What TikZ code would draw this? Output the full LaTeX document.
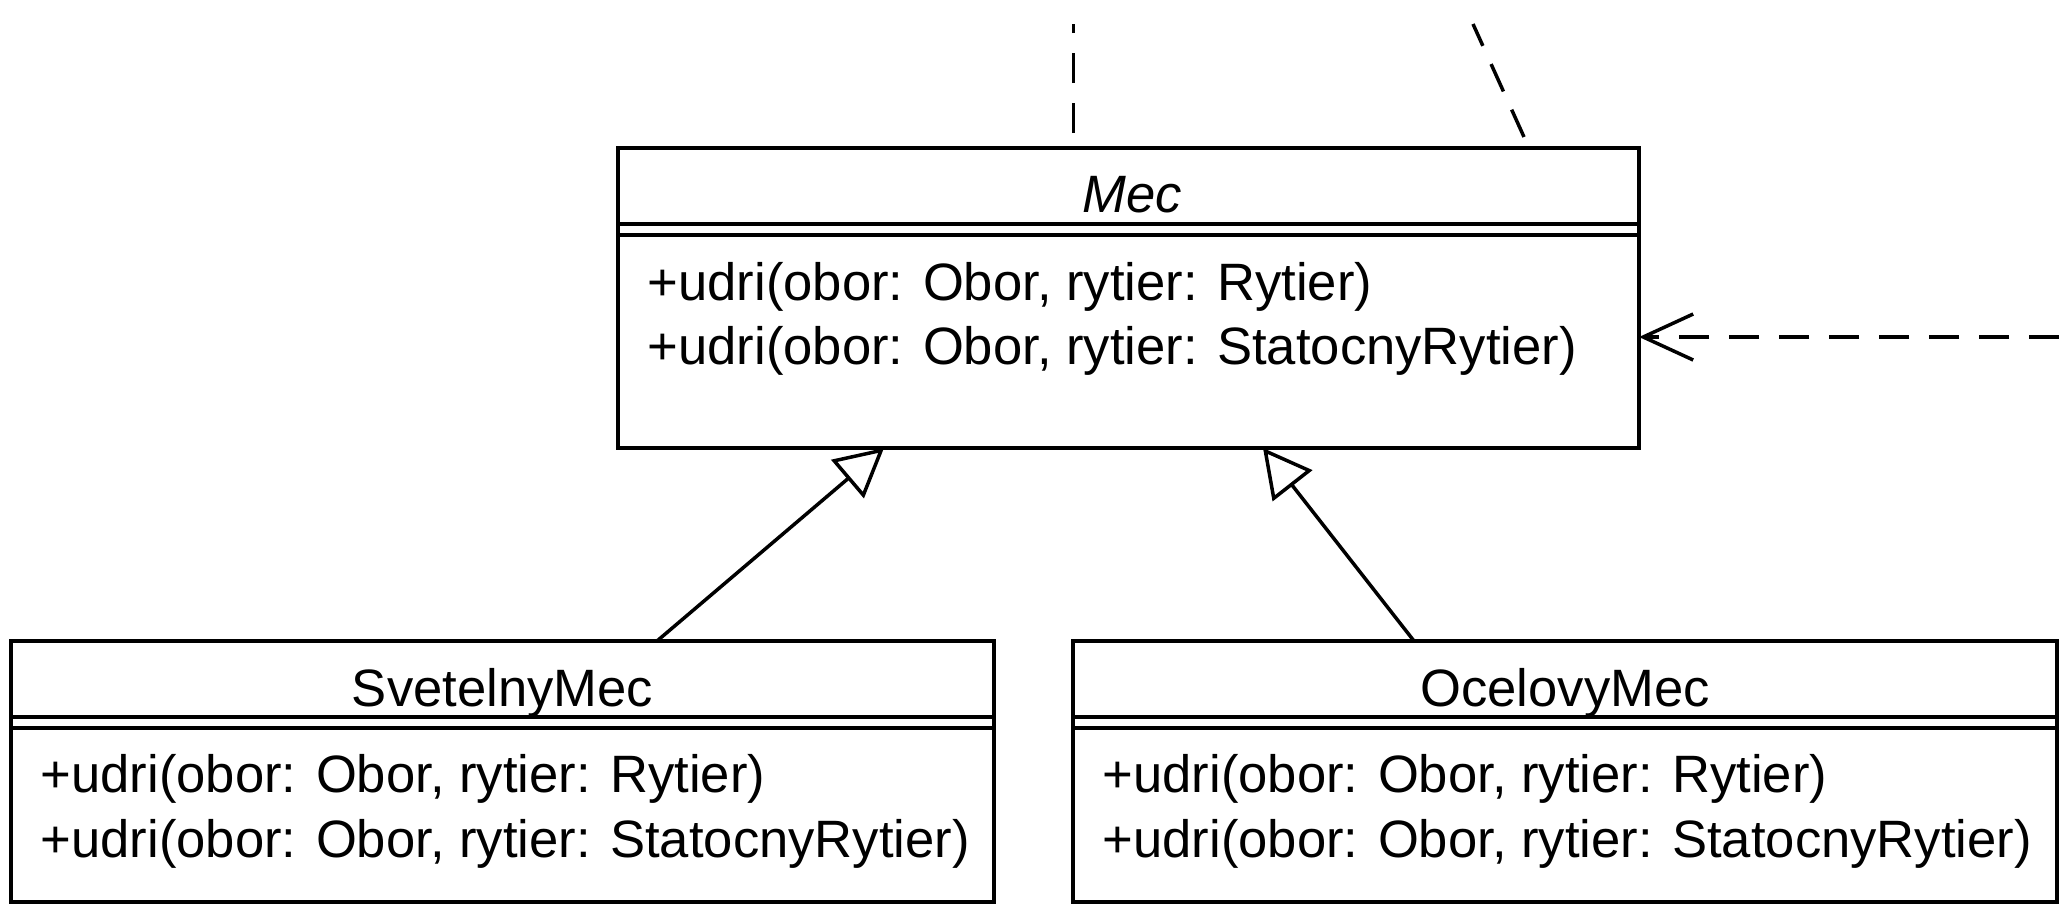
\documentclass[tikz,border=0pt]{standalone}
\usepackage{fontspec}
\setmainfont{Liberation Sans}
\usetikzlibrary{arrows.meta,calc}

\begin{document}
\begin{tikzpicture}[x=1pt,y=-1pt,
  line width=3.5pt,
  classbox/.style={draw, rectangle, inner sep=0pt, outer sep=0pt, anchor=north west},
  ttl/.style={anchor=base, inner sep=0pt, font=\fontsize{52.6pt}{64pt}\selectfont},
  abstractttl/.style={ttl, font=\fontsize{52.6pt}{64pt}\selectfont\itshape},
  member/.style={anchor=base west, inner sep=0pt, font=\fontsize{52.6pt}{64pt}\selectfont},
  dep/.style={dash pattern=on 30pt off 20pt},
  inherit/.style={-{Triangle[open,length=48pt,width=50pt]}},
  uses/.style={dep, -{Straight Barb[length=50pt,width=46pt]}}]

\useasboundingbox (0,0) rectangle (2059,903);

% abstract base class
\node[classbox, minimum width=1021pt, minimum height=300pt] (mec) at (618,148) {};
\draw ($(mec.north west)+(0,76)$) -- ($(mec.north east)+(0,76)$);
\draw ($(mec.north west)+(0,87)$) -- ($(mec.north east)+(0,87)$);
\node[abstractttl] (mecname) at ($(mec.north)+(4,64)$) {Mec};
\node[member] (mec1) at ($(mec.north west)+(28,152)$) {+udri(obor: Obor, rytier: Rytier)};
\node[member] (mec2) at ($(mec.north west)+(28,216)$) {+udri(obor: Obor, rytier: StatocnyRytier)};

% subclass SvetelnyMec
\node[classbox, minimum width=983pt, minimum height=261pt] (sv) at (11,641) {};
\draw ($(sv.north west)+(0,76)$) -- ($(sv.north east)+(0,76)$);
\draw ($(sv.north west)+(0,87)$) -- ($(sv.north east)+(0,87)$);
\node[ttl] (svname) at ($(sv.north)+(0,65)$) {SvetelnyMec};
\node[member] (sv1) at ($(sv.north west)+(28,151)$) {+udri(obor: Obor, rytier: Rytier)};
\node[member] (sv2) at ($(sv.north west)+(28,216)$) {+udri(obor: Obor, rytier: StatocnyRytier)};

% subclass OcelovyMec
\node[classbox, minimum width=984pt, minimum height=261pt] (oc) at (1073,641) {};
\draw ($(oc.north west)+(0,76)$) -- ($(oc.north east)+(0,76)$);
\draw ($(oc.north west)+(0,87)$) -- ($(oc.north east)+(0,87)$);
\node[ttl] (ocname) at ($(oc.north)+(0,65)$) {OcelovyMec};
\node[member] (oc1) at ($(oc.north west)+(28,151)$) {+udri(obor: Obor, rytier: Rytier)};
\node[member] (oc2) at ($(oc.north west)+(28,216)$) {+udri(obor: Obor, rytier: StatocnyRytier)};

% generalisation arrows
\coordinate (svtop) at ($(sv.north west)+(646,0)$);
\coordinate (mecb1) at ($(mec.south west)+(266,0)$);
\draw[inherit] (svtop) -- (mecb1);
\coordinate (octop) at ($(oc.north west)+(341,0)$);
\coordinate (mecb2) at ($(mec.south west)+(645,0)$);
\draw[inherit] (octop) -- (mecb2);

% dependency into Mec from the right
\coordinate (depsrc) at (2059,337);
\draw[uses] (depsrc) -- (mec.east |- depsrc);

% dashed links leaving upwards
\coordinate (up1a) at (1073.5,133);
\coordinate (up1b) at (1073.5,24);
\draw[dep] (up1a) -- (up1b);
\coordinate (up2a) at (1524,137);
\coordinate (up2b) at (1473,24);
\draw[dep] (up2a) -- (up2b);
\end{tikzpicture}
\end{document}
